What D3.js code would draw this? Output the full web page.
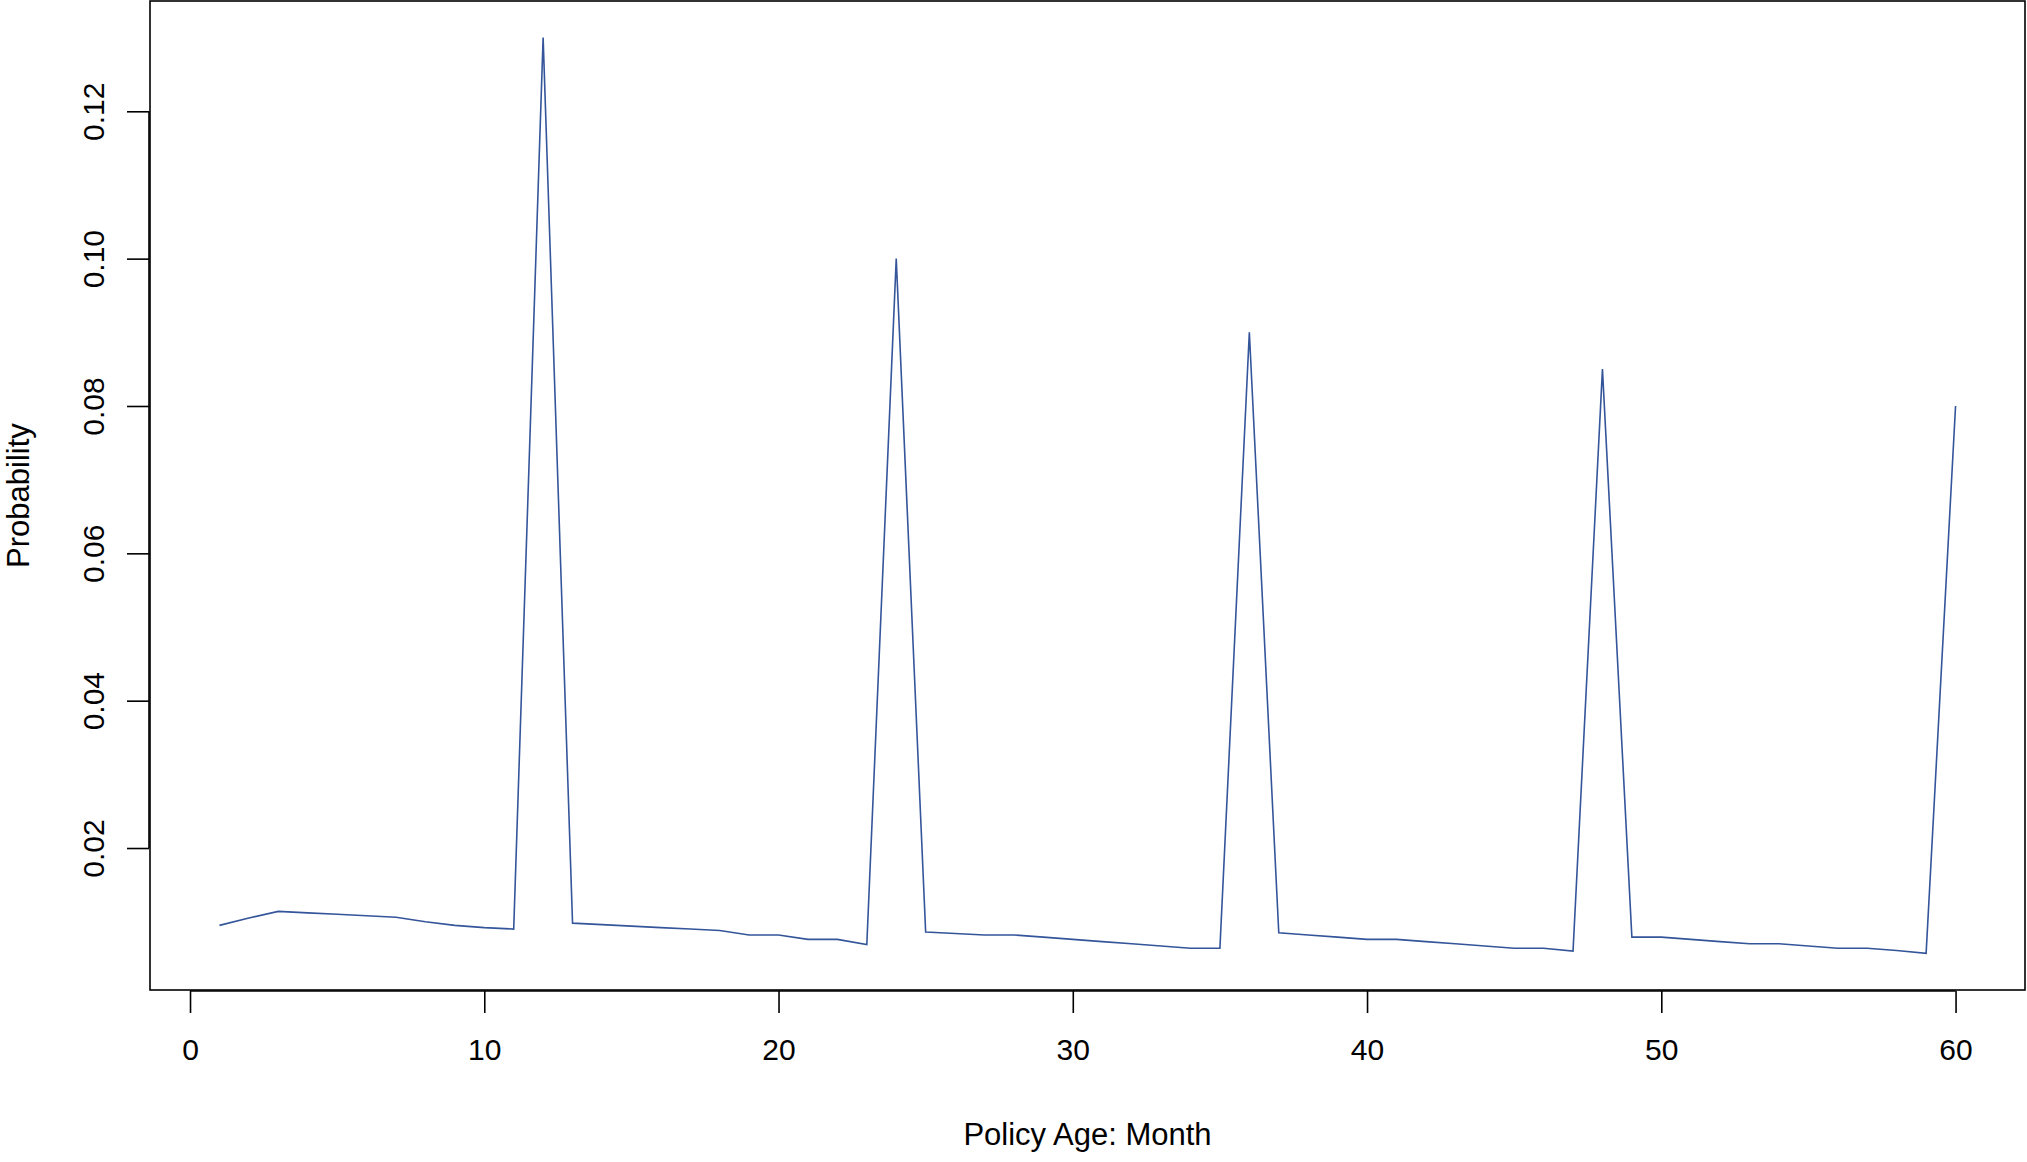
<!DOCTYPE html>
<html>
<head>
<meta charset="utf-8">
<script src="https://cdn.jsdelivr.net/npm/d3@7"></script>
<style>
  body { margin: 0; background: #fff; }
  text { font-family: "Liberation Sans", Arial, sans-serif; fill: #000; }
</style>
</head>
<body>
<div id="container"></div>
<script>
const months = d3.range(1, 61);
const probability = [
  0.0095, 0.0105, 0.0114, 0.0112, 0.0110, 0.0108, 0.0106, 0.0100, 0.0095, 0.0092,
  0.0090, 0.1300, 0.0098, 0.0096, 0.0094, 0.0092, 0.0090, 0.0088, 0.0082, 0.0082,
  0.0076, 0.0076, 0.0069, 0.1000, 0.0086, 0.0084, 0.0082, 0.0082, 0.0079, 0.0076,
  0.0073, 0.0070, 0.0067, 0.0064, 0.0064, 0.0900, 0.0085, 0.0082, 0.0079, 0.0076,
  0.0076, 0.0073, 0.0070, 0.0067, 0.0064, 0.0064, 0.0060, 0.0850, 0.0079, 0.0079,
  0.0076, 0.0073, 0.0070, 0.0070, 0.0067, 0.0064, 0.0064, 0.0061, 0.0057, 0.0800
];
const xTicks = [0, 10, 20, 30, 40, 50, 60];
const yTicks = [0.02, 0.04, 0.06, 0.08, 0.10, 0.12];

const W = 2027, H = 1162;
const plot = { left: 150, right: 2025, top: 1, bottom: 990 };

const svg = d3.select('#container').append('svg')
  .attr('width', W).attr('height', H);

// R-style 4% padding on both axes
const xMin = 1, xMax = 60;
const xPad = (xMax - xMin) * 0.04;
const yMin = d3.min(probability), yMax = d3.max(probability);
const yPad = (yMax - yMin) * 0.04;

const xScale = d3.scaleLinear()
  .domain([xMin - xPad, xMax + xPad])
  .range([plot.left, plot.right]);
const yScale = d3.scaleLinear()
  .domain([yMin - yPad, yMax + yPad])
  .range([plot.bottom, plot.top]);

// Box
svg.append('rect')
  .attr('x', plot.left).attr('y', plot.top)
  .attr('width', plot.right - plot.left).attr('height', plot.bottom - plot.top)
  .attr('fill', 'none').attr('stroke', '#000').attr('stroke-width', 1.6);

// Axes
const xAxis = svg.append('g')
  .attr('transform', `translate(0, ${plot.bottom + 1})`)
  .call(d3.axisBottom(xScale).tickValues(xTicks).tickSize(22).tickPadding(26));
xAxis.select('.domain')
  .attr('d', `M${xScale(0)},0H${xScale(60)}`).attr('stroke-width', 1.6);
xAxis.selectAll('.tick line').attr('stroke-width', 1.6);
xAxis.selectAll('.tick text').style('font-size', '30px')
  .style('font-family', '"Liberation Sans", Arial, sans-serif');

const yAxis = svg.append('g')
  .attr('transform', `translate(${plot.left - 1}, 0)`)
  .call(d3.axisLeft(yScale).tickValues(yTicks).tickSize(22).tickFormat(d3.format('.2f')).tickPadding(12));
yAxis.select('.domain')
  .attr('d', `M0,${yScale(0.02)}V${yScale(0.12)}`).attr('stroke-width', 1.6);
yAxis.selectAll('.tick line').attr('stroke-width', 1.6);
yAxis.selectAll('.tick text')
  .style('font-size', '30px')
  .style('font-family', '"Liberation Sans", Arial, sans-serif')
  .attr('text-anchor', 'middle')
  .attr('transform', d => `translate(${-34 - 22}, 0) rotate(-90)`)
  .attr('x', 0).attr('dy', '0.35em');

// Line
const line = d3.line()
  .x((d, i) => xScale(months[i]))
  .y(d => yScale(d));

svg.append('path')
  .datum(probability)
  .attr('fill', 'none')
  .attr('stroke', '#34559a')
  .attr('stroke-width', 1.6)
  .attr('d', line);

// Labels
svg.append('text')
  .attr('x', (plot.left + plot.right) / 2).attr('y', 1145)
  .attr('text-anchor', 'middle').style('font-size', '31px')
  .text('Policy Age: Month');

svg.append('text')
  .attr('transform', `translate(29, ${(plot.top + plot.bottom) / 2}) rotate(-90)`)
  .attr('text-anchor', 'middle').style('font-size', '31px')
  .text('Probability');
</script>
</body>
</html>
